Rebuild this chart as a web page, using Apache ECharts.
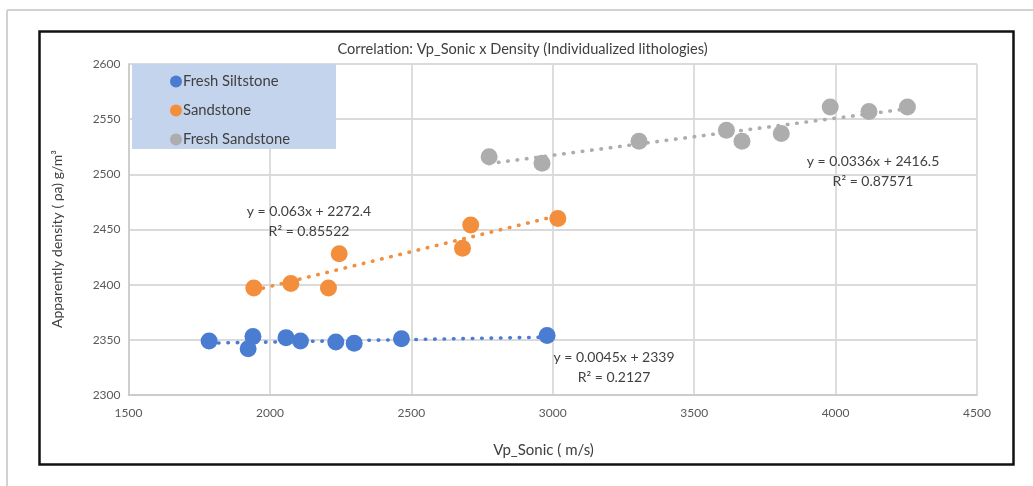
<!DOCTYPE html>
<html>
<head>
<meta charset="utf-8">
<title>Correlation: Vp_Sonic x Density</title>
<script src="https://cdn.jsdelivr.net/npm/echarts@6/dist/echarts.min.js"></script>
<style>
  html, body { margin: 0; padding: 0; background: #ffffff; }
  #chart { width: 1033px; height: 486px; }
</style>
</head>
<body>
<div id="chart"></div>
<script>
// Lithology names (legend order)
const seriesNames = ['Fresh Siltstone', 'Sandstone', 'Fresh Sandstone'];

// Vp_Sonic (m/s) and apparent density (g/m³) per lithology
const siltstoneVp      = [1785, 1940, 1923, 2057, 2108, 2233, 2298, 2465, 2980];
const siltstoneDensity = [2349, 2353, 2342, 2352, 2349, 2348, 2347, 2351, 2354];

const sandstoneVp      = [1943, 2074, 2207, 2245, 2681, 2710, 3018];
const sandstoneDensity = [2397, 2401, 2397, 2428, 2433, 2454, 2460];

const freshSandVp      = [2775, 2962, 3305, 3614, 3669, 3808, 3981, 4118, 4254];
const freshSandDensity = [2516, 2510, 2530, 2540, 2530, 2537, 2561, 2557, 2561];

// Linear trendline coefficients: y = slope * x + intercept, with R²
const trendSlopes     = [0.0045, 0.063, 0.0336];
const trendIntercepts = [2339, 2272.4, 2416.5];
const trendR2         = ['0.2127', '0.85522', '0.87571'];

// Axis tick values
const xTicks = [1500, 2000, 2500, 3000, 3500, 4000, 4500];
const yTicks = [2300, 2350, 2400, 2450, 2500, 2550, 2600];

const colors = ['#4a7dd1', '#f28e3c', '#adadad'];
const FONT = 'Lato, "Open Sans", sans-serif';

const xs = [siltstoneVp, sandstoneVp, freshSandVp];
const ys = [siltstoneDensity, sandstoneDensity, freshSandDensity];

function pairs(a, b) { return a.map((v, i) => [v, b[i]]); }

const scatterSeries = seriesNames.map((name, i) => ({
  name: name,
  type: 'scatter',
  data: pairs(xs[i], ys[i]),
  symbol: 'circle',
  symbolSize: 17,
  itemStyle: { color: colors[i], opacity: 1 },
  z: 3
}));

// Dotted trendlines spanning each lithology's Vp range
const trendSeries = seriesNames.map((name, i) => {
  const lo = Math.min.apply(null, xs[i]);
  const hi = Math.max.apply(null, xs[i]);
  const f = x => trendSlopes[i] * x + trendIntercepts[i];
  return {
    name: name + ' trend',
    type: 'line',
    data: [[lo, f(lo)], [hi, f(hi)]],
    symbol: 'none',
    silent: true,
    lineStyle: { color: colors[i], width: 3.6, type: [0.5, 8.9], cap: 'round' },
    z: 4
  };
});

function eqText(i) {
  return 'y = ' + trendSlopes[i] + 'x + ' + trendIntercepts[i] + '\nR² = ' + trendR2[i];
}

// Equation label anchors (pixel centres)
const eqPos = [[614, 348], [309, 202], [873, 152]];

const chart = echarts.init(document.getElementById('chart'), null, { renderer: 'canvas' });

const tickLabel = { color: '#595959', fontSize: 12, fontFamily: FONT, formatter: v => String(v) };

chart.setOption({
  animation: false,
  backgroundColor: '#ffffff',
  color: colors,
  grid: { left: 128.5, right: 56, top: 64, bottom: 91, containLabel: false },
  xAxis: {
    type: 'value',
    min: xTicks[0],
    max: xTicks[xTicks.length - 1],
    interval: xTicks[1] - xTicks[0],
    axisLine: { show: true, lineStyle: { color: '#c8c8c8', width: 1.5 } },
    axisTick: { show: false },
    axisLabel: Object.assign({ margin: 12.5 }, tickLabel),
    splitLine: { show: true, lineStyle: { color: '#dadada', width: 1.8 } }
  },
  yAxis: {
    type: 'value',
    min: yTicks[0],
    max: yTicks[yTicks.length - 1],
    interval: yTicks[1] - yTicks[0],
    axisLine: { show: true, lineStyle: { color: '#c8c8c8', width: 1.5 } },
    axisTick: { show: false },
    axisLabel: Object.assign({ margin: 8 }, tickLabel),
    splitLine: { show: true, lineStyle: { color: '#dadada', width: 1.8 } }
  },
  legend: {
    data: seriesNames,
    orient: 'vertical',
    left: 170,
    top: 74,
    itemWidth: 12,
    itemHeight: 12,
    itemGap: 14,
    icon: 'circle',
    padding: 0,
    z: 10,
    textStyle: { color: '#404040', fontSize: 14.8, lineHeight: 14, fontFamily: FONT, padding: [0, 0, 0, -4] }
  },
  series: scatterSeries.concat(trendSeries),
  graphic: [
    // outer light frame
    { type: 'line', shape: { x1: 7, y1: 10, x2: 1033, y2: 10 }, style: { stroke: '#d2d2d2', lineWidth: 2 }, silent: true },
    { type: 'line', shape: { x1: 7, y1: 10, x2: 7, y2: 486 }, style: { stroke: '#d2d2d2', lineWidth: 2 }, silent: true },
    // chart border
    { type: 'rect', shape: { x: 39.5, y: 31.5, width: 974, height: 433 }, style: { fill: null, stroke: '#111111', lineWidth: 2.5 }, silent: true },
    // legend box
    { type: 'rect', shape: { x: 132, y: 64, width: 204, height: 85 }, style: { fill: '#c4d4ec' }, z: 2, silent: true },
    // title
    { type: 'text', x: 522.5, y: 49, style: { text: 'Correlation: Vp_Sonic x Density (Individualized lithologies)', fill: '#404040', font: '14.6px ' + FONT, textAlign: 'center', textVerticalAlign: 'middle' }, silent: true },
    // axis titles
    { type: 'text', x: 543.5, y: 450, style: { text: 'Vp_Sonic ( m/s)', fill: '#404040', font: '15px ' + FONT, textAlign: 'center', textVerticalAlign: 'middle' }, silent: true },
    { type: 'text', x: 57, y: 239, rotation: Math.PI / 2, style: { text: 'Apparently density ( ρa) g/m³', fill: '#404040', font: '14px ' + FONT, textAlign: 'center', textVerticalAlign: 'middle' }, silent: true }
  ].concat(eqPos.map((p, i) => ({
    type: 'text', x: p[0], y: p[1], z: 6,
    style: { text: eqText(i), fill: '#404040', font: '14px ' + FONT, textAlign: 'center', textVerticalAlign: 'top', lineHeight: 19.5 },
    silent: true
  })))
});
</script>
</body>
</html>
